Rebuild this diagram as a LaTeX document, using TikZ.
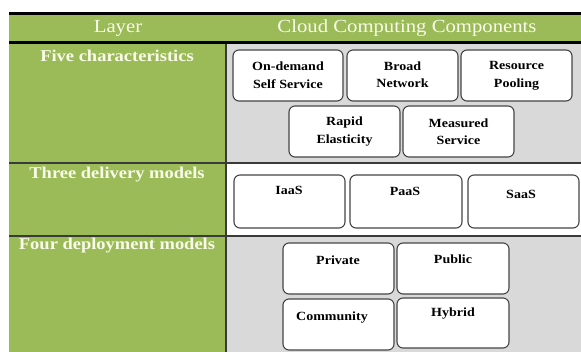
\documentclass[tikz,border=0pt]{standalone}
\usepackage{fontspec}
\setmainfont[FakeStretch=1.12]{Liberation Serif}
\definecolor{olive}{HTML}{9BBB59}
\definecolor{panel}{HTML}{D9D9D9}
\definecolor{cream}{HTML}{FAFAEA}
\definecolor{rule}{HTML}{3A3A3A}
\definecolor{boxline}{HTML}{454545}
\begin{document}
\begin{tikzpicture}[x=1pt,y=-1pt,
  comp/.style={draw=boxline,line width=1.1pt,fill=white,rounded corners=6pt,inner sep=0pt},
  ctext/.style={font=\fontsize{12.5}{17.5}\selectfont\bfseries,align=center,inner sep=0pt,text=black},
  head/.style={font=\fontsize{18.5}{20}\selectfont,text=cream,inner sep=0pt},
  layer/.style={font=\fontsize{16.5}{18}\selectfont\bfseries,text=cream,inner sep=0pt}]
\useasboundingbox (0,0) rectangle (581,352);
% backgrounds
\fill[olive] (9,13) rectangle (581,43);
\fill[olive] (9,43) rectangle (226,352);
\fill[panel] (226,43) rectangle (581,163);
\fill[white] (226,163) rectangle (581,236);
\fill[panel] (226,236) rectangle (581,352);
% rules
\draw[black,line width=3pt] (9,13.5) -- (581,13.5);
\draw[black,line width=3pt] (9,42.5) -- (581,42.5);
\draw[rule,line width=1.3pt] (9,163) -- (581,163);
\draw[rule,line width=1.3pt] (9,236) -- (581,236);
\draw[rule,line width=1.3pt] (226,44) -- (226,352);
% header
\node[head] (hl) at (118,28) {Layer};
\node[head] (hc) at (407,28) {Cloud Computing Components};
% layer labels
\node[layer] (l1) at (117,56) {Five characteristics};
\node[layer] (l2) at (117,175) {Three delivery models};
\node[layer] (l3) at (117,246) {Four deployment models};
% row 1
\node[comp,minimum width=110pt,minimum height=51pt] (b1) at (288,75.5) {};
\node[ctext] (t1) at (288,75) {On-demand\\Self Service};
\node[comp,minimum width=111pt,minimum height=51pt] (b2) at (402.5,75.5) {};
\node[ctext] (t2) at (402.5,74.5) {Broad\\Network};
\node[comp,minimum width=111pt,minimum height=51pt] (b3) at (516.5,75.5) {};
\node[ctext] (t3) at (516.5,76) {Resource\\Pooling};
\node[comp,minimum width=111pt,minimum height=51pt] (b4) at (344.5,131.5) {};
\node[ctext] (t4) at (344.5,131.5) {Rapid\\Elasticity};
\node[comp,minimum width=111pt,minimum height=51pt] (b5) at (458.5,131.5) {};
\node[ctext] (t5) at (458.5,131.5) {Measured\\Service};
% row 2
\node[comp,minimum width=111pt,minimum height=53pt] (b6) at (289.5,201.5) {};
\node[ctext] (t6) at (289,190) {IaaS};
\node[comp,minimum width=112pt,minimum height=53pt] (b7) at (406,201.5) {};
\node[ctext] (t7) at (405,191) {PaaS};
\node[comp,minimum width=111pt,minimum height=53pt] (b8) at (523.5,201.5) {};
\node[ctext] (t8) at (521,194) {SaaS};
% row 3
\node[comp,minimum width=111pt,minimum height=51pt] (b9) at (338.5,268.5) {};
\node[ctext] (t9) at (338,260) {Private};
\node[comp,minimum width=112pt,minimum height=51pt] (b10) at (453,268.5) {};
\node[ctext] (t10) at (453,259) {Public};
\node[comp,minimum width=111pt,minimum height=51pt] (b11) at (338.5,324.5) {};
\node[ctext] (t11) at (332,318) {Community};
\node[comp,minimum width=112pt,minimum height=50pt] (b12) at (453,323) {};
\node[ctext] (t12) at (453,314) {Hybrid};
\end{tikzpicture}
\end{document}
